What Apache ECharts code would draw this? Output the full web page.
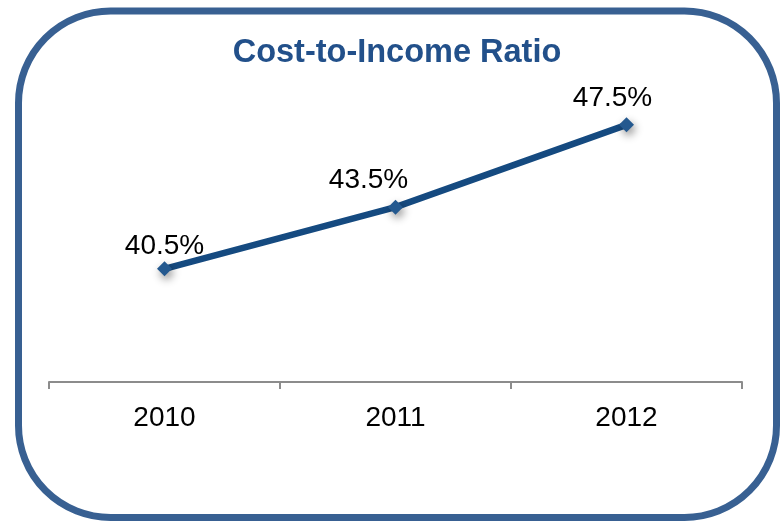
<!DOCTYPE html>
<html>
<head>
<meta charset="utf-8">
<script src="https://cdn.jsdelivr.net/npm/echarts@6/dist/echarts.min.js"></script>
<style>
  html, body { margin: 0; padding: 0; background: #ffffff; }
  #chart { width: 782px; height: 522px; }
</style>
</head>
<body>
<div id="chart"></div>
<script>
// Cost-to-income ratio by year (percent)
const years = ['2010', '2011', '2012'];
const ratios = [40.5, 43.5, 47.5];
const titleText = 'Cost-to-Income Ratio';

// Label nudges for each point [x, y] in pixels
const labelNudges = [[0, 4], [-27, 0], [-14, 0]];

const FONT = '"Liberation Sans", Arial, sans-serif';

const chart = echarts.init(document.getElementById('chart'), null, { renderer: 'canvas' });

chart.setOption({
  animation: false,
  backgroundColor: '#ffffff',
  grid: { left: 49, right: 40, top: 73.4, bottom: 140 },
  graphic: [
    {
      type: 'rect',
      shape: { x: 18.5, y: 11, width: 758, height: 506.5, r: 92 },
      style: { fill: 'none', stroke: '#386092', lineWidth: 7 },
      z: 100
    },
    {
      type: 'text',
      x: 397, y: 53,
      style: {
        text: titleText,
        font: 'bold 32.5px ' + FONT,
        fill: '#22508a',
        textAlign: 'center',
        textVerticalAlign: 'middle'
      }
    }
  ],
  xAxis: {
    type: 'category',
    data: years,
    boundaryGap: true,
    axisLine: { show: true, lineStyle: { color: '#8c8c8c', width: 2 } },
    axisTick: { show: true, length: 7, inside: false, lineStyle: { color: '#8c8c8c', width: 2 } },
    axisLabel: { fontSize: 28, color: '#000000', fontFamily: FONT, margin: 22 },
    splitLine: { show: false }
  },
  yAxis: {
    type: 'value',
    min: 35,
    max: 50,
    show: false
  },
  series: [{
    type: 'line',
    data: ratios.map((v, i) => ({
      value: v,
      label: { offset: labelNudges[i] }
    })),
    lineStyle: { color: '#154a80', width: 6.5 },
    symbol: 'diamond',
    symbolSize: 15,
    itemStyle: {
      color: '#24598f',
      shadowColor: 'rgba(0,0,0,0.45)',
      shadowBlur: 9,
      shadowOffsetX: 2,
      shadowOffsetY: 4
    },
    label: {
      show: true,
      position: 'top',
      distance: 5,
      formatter: p => p.value + '%',
      fontSize: 28,
      color: '#000000',
      fontFamily: FONT
    }
  }]
});
</script>
</body>
</html>
